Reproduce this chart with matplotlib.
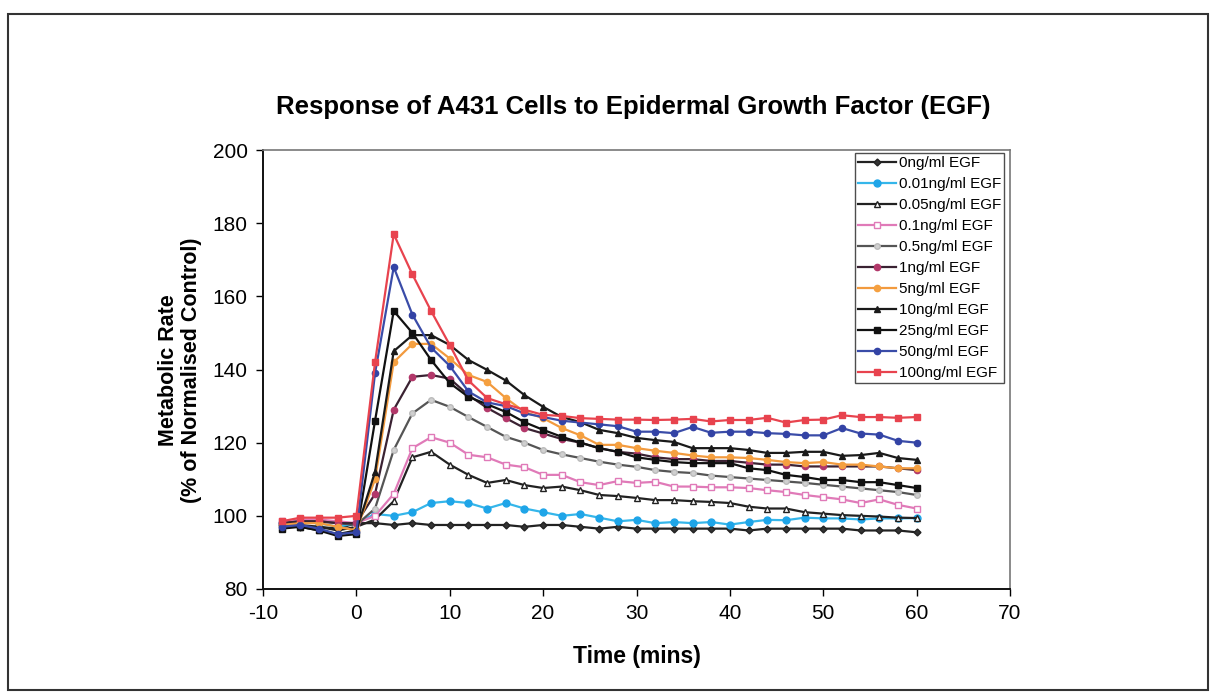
import matplotlib
matplotlib.use("Agg")
import matplotlib.pyplot as plt
from matplotlib.patches import Rectangle

plt.rcParams['font.family'] = ['Liberation Sans', 'DejaVu Sans']
plt.rcParams['axes.unicode_minus'] = False

time_min = list(range(-8, 61, 2))

egf_0 = [97.5, 97, 97, 96.5, 98,
         98, 97.5, 98, 97.5, 97.5, 97.5, 97.5, 97.5, 97, 97.5,
         97.5, 97, 96.5, 97, 96.5, 96.5, 96.5, 96.5, 96.5, 96.5,
         96, 96.5, 96.5, 96.5, 96.5, 96.5, 96, 96, 96, 95.5]
egf_001 = [98, 98.5, 98, 97, 98,
           100.5, 100, 101, 103.5, 104, 103.5, 102, 103.5, 102, 101,
           100, 100.5, 99.5, 98.5, 98.9, 98, 98.3, 98, 98.3, 97.6,
           98.3, 98.9, 98.8, 99.5, 99.3, 99.3, 99, 99.3, 99.3, 99.4]
egf_005 = [97, 97.5, 97, 96, 97,
           99, 104, 116, 117.5, 114, 111.2, 109, 109.8, 108.4, 107.6,
           108, 107, 105.7, 105.4, 104.9, 104.3, 104.3, 104, 103.8, 103.5,
           102.5, 102, 102, 101, 100.6, 100.2, 100, 99.8, 99.5, 99.4]
egf_01 = [98.5, 99, 99, 98.5, 98,
          100, 106, 118.5, 121.5, 120, 116.7, 116, 114, 113.3, 111.2,
          111.2, 109.2, 108.4, 109.5, 109, 109.3, 108, 108, 107.8, 107.8,
          107.6, 107, 106.5, 105.7, 105.1, 104.5, 103.5, 104.5, 103, 102]
egf_05 = [98, 98.5, 98.5, 98, 97.5,
          102, 118, 128, 131.7, 129.8, 127, 124.3, 121.6, 120, 118,
          116.8, 115.8, 114.8, 114, 113.4, 112.5, 112, 111.7, 111, 110.6,
          110.2, 109.8, 109.4, 109, 108.5, 108, 107.5, 107, 106.5, 105.7]
egf_1 = [98, 98.5, 98.5, 98, 98,
         106, 129, 138, 138.5, 137.5, 133, 129.5, 126.7, 124, 122.5,
         121, 120, 118.5, 117.5, 117, 116, 115.5, 115.5, 115, 115,
         114.5, 114, 114, 113.5, 113.5, 113.5, 113.5, 113.5, 113, 112.5]
egf_5 = [97.5, 98, 98, 97, 96,
         110, 142, 147, 147, 143, 138.5, 136.6, 132.2, 128.4, 126.7,
         124, 122, 119.4, 119.4, 118.5, 117.8, 117.2, 116.5, 116, 116,
         115.8, 115.3, 114.7, 114.4, 114.7, 114, 114, 113.5, 113, 113]
egf_10 = [97, 97, 96, 95, 96,
          112, 145, 149.4, 149.4, 146.7, 142.6, 139.9, 137, 133, 129.8,
          127, 125.6, 123.5, 122.6, 121.3, 120.7, 120.2, 118.5, 118.5, 118.5,
          118, 117.2, 117.2, 117.5, 117.5, 116.4, 116.6, 117.2, 115.8, 115.3]
egf_25 = [96.5, 97, 96, 94.5, 95,
          126, 156, 150, 142.6, 136.3, 132.5, 130.5, 128.4, 125.6, 123.5,
          121.6, 120, 118.5, 117.5, 116, 115.3, 114.7, 114.4, 114.4, 114.4,
          113, 112.5, 111.2, 110.6, 109.8, 109.8, 109.2, 109.2, 108.4, 107.6]
egf_50 = [97, 97.5, 96.5, 95, 95.5,
          139, 168, 155, 146, 141, 134, 131, 130, 128, 127,
          126, 125.5, 125, 124.5, 123, 123, 122.6, 124.3, 122.7, 123,
          123, 122.6, 122.4, 122, 122, 124, 122.5, 122.2, 120.5, 120]
egf_100 = [98.5, 99.5, 99.5, 99.5, 100,
           142, 177, 166, 156, 146.7, 137, 132.2, 130.5, 129, 127.6,
           127.3, 126.7, 126.5, 126.3, 126.3, 126.2, 126.3, 126.5, 125.8, 126.2,
           126.2, 126.8, 125.5, 126.2, 126.3, 127.5, 127, 127, 126.8, 127]

labels = ["0ng/ml EGF", "0.01ng/ml EGF", "0.05ng/ml EGF", "0.1ng/ml EGF",
          "0.5ng/ml EGF", "1ng/ml EGF", "5ng/ml EGF", "10ng/ml EGF",
          "25ng/ml EGF", "50ng/ml EGF", "100ng/ml EGF"]
series = [egf_0, egf_001, egf_005, egf_01, egf_05, egf_1, egf_5,
          egf_10, egf_25, egf_50, egf_100]

styles = [
    dict(color='#222222', marker='D', mfc='#333333', mec='#222222', ms=3.5),
    dict(color='#35B6EA', marker='o', mfc='#1FA5E8', mec='#1FA5E8', ms=5),
    dict(color='#222222', marker='^', mfc='white', mec='#222222', ms=5),
    dict(color='#E07AB8', marker='s', mfc='white', mec='#E07AB8', ms=5),
    dict(color='#555555', marker='o', mfc='#D0D0D0', mec='#BBBBBB', ms=4),
    dict(color='#3A2232', marker='o', mfc='#B2386A', mec='#B2386A', ms=4.5),
    dict(color='#F29A3E', marker='o', mfc='#F5A040', mec='#F5A040', ms=4.5),
    dict(color='#1A1A1A', marker='^', mfc='#1A1A1A', mec='#1A1A1A', ms=5),
    dict(color='#111111', marker='s', mfc='#111111', mec='#111111', ms=4.5),
    dict(color='#3A4CA8', marker='o', mfc='#3343A5', mec='#3343A5', ms=4.5),
    dict(color='#E8434E', marker='s', mfc='#E8434E', mec='#E8434E', ms=5),
]

fig = plt.figure(figsize=(12.14, 6.99), dpi=100)
W, H = 1214, 699
ax = fig.add_axes([263 / W, 1 - 589 / H, (1010 - 263) / W, (589 - 150) / H])

for vals, lab, st in zip(series, labels, styles):
    ax.plot(time_min, vals, label=lab, lw=1.6, **st)

ax.set_xlim(-10, 70)
ax.set_ylim(80, 200)
ax.set_xticks(range(-10, 71, 10))
ax.set_yticks(range(80, 201, 20))
ax.tick_params(axis='both', labelsize=15, direction='out', length=5, width=1, pad=6)
for s in ['top', 'right']:
    ax.spines[s].set_color('#777777')
    ax.spines[s].set_linewidth(1.2)
for s in ['left', 'bottom']:
    ax.spines[s].set_color('#111111')
    ax.spines[s].set_linewidth(1.4)

leg = ax.legend(loc='upper right', bbox_to_anchor=(1004 / W, 1 - 153 / H),
                bbox_transform=fig.transFigure, borderaxespad=0,
                fontsize=11, frameon=True, fancybox=False, edgecolor='#222222',
                labelspacing=0.46, handlelength=2.5, handletextpad=0.15,
                borderpad=0.2)
leg.get_frame().set_linewidth(1.0)

fig.text(633 / W, 1 - 107 / H, "Response of A431 Cells to Epidermal Growth Factor (EGF)",
         ha='center', va='center', fontsize=18.5, fontweight='bold')
fig.text(637 / W, 1 - 657 / H, "Time (mins)", ha='center', va='center',
         fontsize=16.5, fontweight='bold')
fig.text(180 / W, 1 - 370 / H, "Metabolic Rate\n(% of Normalised Control)",
         ha='center', va='center', rotation=90, fontsize=15.5, fontweight='bold',
         linespacing=1.15)

fig.patches.append(Rectangle((8 / W, 1 - 690 / H), (1208 - 8) / W, (690 - 14) / H,
                             transform=fig.transFigure, fill=False,
                             edgecolor='#333333', linewidth=1.5))

fig.savefig("out.png", dpi=100)
